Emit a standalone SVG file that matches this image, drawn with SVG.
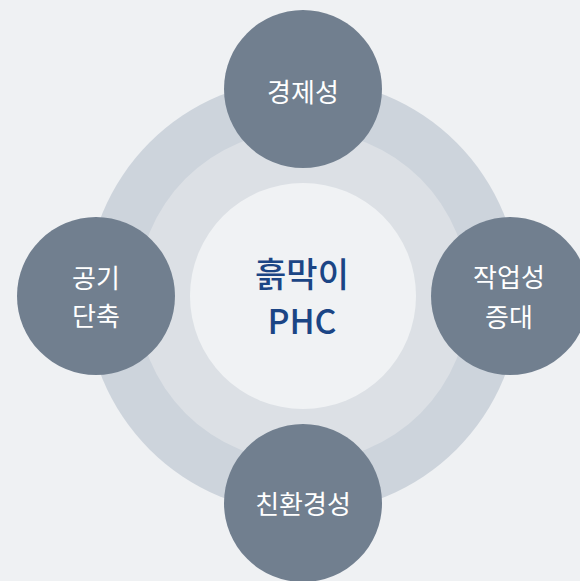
<svg xmlns="http://www.w3.org/2000/svg" width="580" height="581" viewBox="0 0 580 581">
<style>
.node{fill:#717f8f}
.lbl{font-family:"Noto Sans CJK KR","Noto Sans",sans-serif;font-size:26px;fill:#ffffff;text-anchor:middle}
.ctr{font-family:"Noto Sans CJK KR","Noto Sans",sans-serif;font-size:34px;font-weight:500;fill:#1b4585;text-anchor:middle}
</style>
<rect width="580" height="581" fill="#eff1f3"/>
<g id="rings">
<circle cx="303" cy="296" r="217" fill="#cdd4dc"/>
<circle cx="303" cy="296" r="166" fill="#dce0e5"/>
</g>
<g id="connectors"></g>
<g id="center">
<circle cx="303" cy="296" r="113" fill="#f0f2f4"/>
<text class="ctr" x="302" y="287">흙막이</text>
<text class="ctr" x="302" y="334">PHC</text>
</g>
<g id="node-top">
<circle class="node" cx="303" cy="89" r="79"/>
<text class="lbl" x="303" y="102">경제성</text>
</g>
<g id="node-left">
<circle class="node" cx="96" cy="296" r="79"/>
<text class="lbl" x="96" y="288">공기</text>
<text class="lbl" x="96" y="326">단축</text>
</g>
<g id="node-right">
<circle class="node" cx="510" cy="296" r="79"/>
<text class="lbl" x="509" y="287">작업성</text>
<text class="lbl" x="509" y="327">증대</text>
</g>
<g id="node-bottom">
<circle class="node" cx="303" cy="503" r="79"/>
<text class="lbl" x="303" y="514">친환경성</text>
</g>
</svg>
